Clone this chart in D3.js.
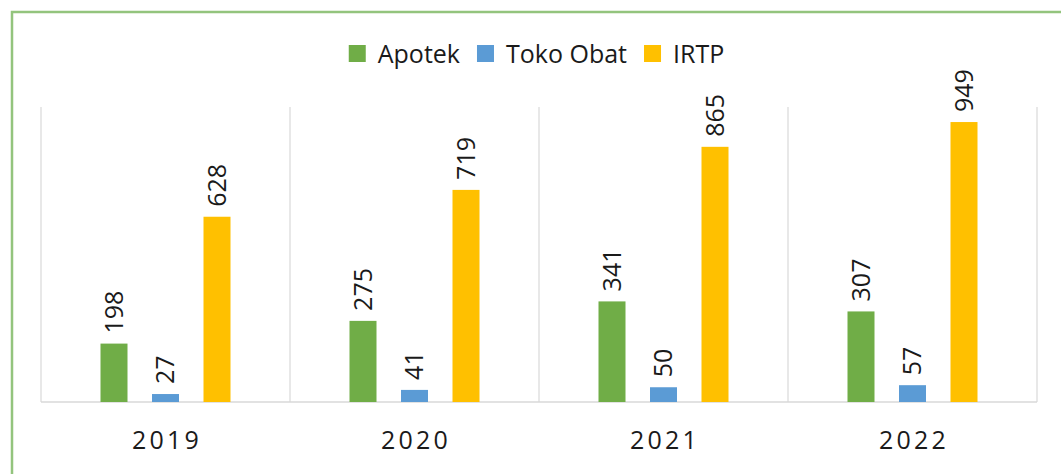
<!DOCTYPE html>
<html>
<head>
<meta charset="utf-8">
<script src="https://cdn.jsdelivr.net/npm/d3@7"></script>
<style>
  body { margin: 0; background: #fff; }
  text { font-family: "Open Sans", sans-serif; fill: #1a1a1a; }
</style>
</head>
<body>
<svg id="chart" width="1061" height="474"></svg>
<script>
const years = ["2019", "2020", "2021", "2022"];
const seriesNames = ["Apotek", "Toko Obat", "IRTP"];
const apotek = [198, 275, 341, 307];
const tokoObat = [27, 41, 50, 57];
const irtp = [628, 719, 865, 949];
const seriesColors = ["#70ad47", "#5b9bd5", "#ffc000"];

const values = [apotek, tokoObat, irtp];
const svg = d3.select("#chart");

// outer green frame (right/bottom edges fall outside the picture)
svg.append("rect")
    .attr("x", 12).attr("y", 12)
    .attr("width", 1100).attr("height", 500)
    .attr("fill", "none")
    .attr("stroke", "#93c47d")
    .attr("stroke-width", 2.5);

const plotLeft = 41, plotRight = 1037, plotTop = 107, plotBottom = 402;

const x = d3.scaleBand().domain(years).range([plotLeft, plotRight]);
const xs = d3.scaleBand().domain(seriesNames).range([47.25, 201.75]);
const y = d3.scaleLinear().domain([0, 1000]).range([plotBottom, plotTop]);

// vertical separators between categories
const seps = years.map(d => x(d)).concat([plotRight]);
svg.selectAll("line.sep").data(seps).enter().append("line")
    .attr("class", "sep")
    .attr("x1", d => d).attr("x2", d => d)
    .attr("y1", plotTop).attr("y2", plotBottom)
    .attr("stroke", "#d9d9d9").attr("stroke-width", 1.2);

svg.append("line")
    .attr("x1", plotLeft).attr("x2", plotRight)
    .attr("y1", plotBottom).attr("y2", plotBottom)
    .attr("stroke", "#d9d9d9").attr("stroke-width", 1.5);

var bars = [];
years.forEach(function (yr, i) {
    seriesNames.forEach(function (s, j) {
        bars.push({year: yr, series: s, value: values[j][i], color: seriesColors[j]});
    });
});

const bw = 27;
svg.selectAll("rect.bar").data(bars).enter().append("rect")
    .attr("class", "bar")
    .attr("x", d => x(d.year) + xs(d.series) + xs.bandwidth() / 2 - bw / 2)
    .attr("y", d => y(d.value))
    .attr("width", bw)
    .attr("height", d => plotBottom - y(d.value))
    .attr("fill", d => d.color);

svg.selectAll("text.val").data(bars).enter().append("text")
    .attr("class", "val")
    .attr("transform", function (d) {
        var cx = x(d.year) + xs(d.series) + xs.bandwidth() / 2;
        return "translate(" + (cx + 8.5) + "," + (y(d.value) - 10) + ") rotate(-90)";
    })
    .attr("font-size", "25px")
    .text(d => d.value);

// category labels
svg.selectAll("text.cat").data(years).enter().append("text")
    .attr("class", "cat")
    .attr("x", d => x(d) + x.bandwidth() / 2 + 1.5)
    .attr("y", 449)
    .attr("text-anchor", "middle")
    .attr("font-size", "25px")
    .attr("letter-spacing", "3.2px")
    .text(d => d);

// legend
const legend = svg.append("g");
var lx = 0;
seriesNames.forEach(function (s, j) {
    var g = legend.append("g").attr("transform", "translate(" + lx + ",0)");
    g.append("rect").attr("x", 0).attr("y", 45).attr("width", 17).attr("height", 17)
        .attr("fill", seriesColors[j]);
    var t = g.append("text").attr("x", 29).attr("y", 63)
        .attr("font-size", "25px").text(s);
    lx += 29 + t.node().getComputedTextLength() + 17;
});
const lw = lx - 17;
legend.attr("transform", "translate(" + (536.5 - lw / 2) + ",0)");
</script>
</body>
</html>
